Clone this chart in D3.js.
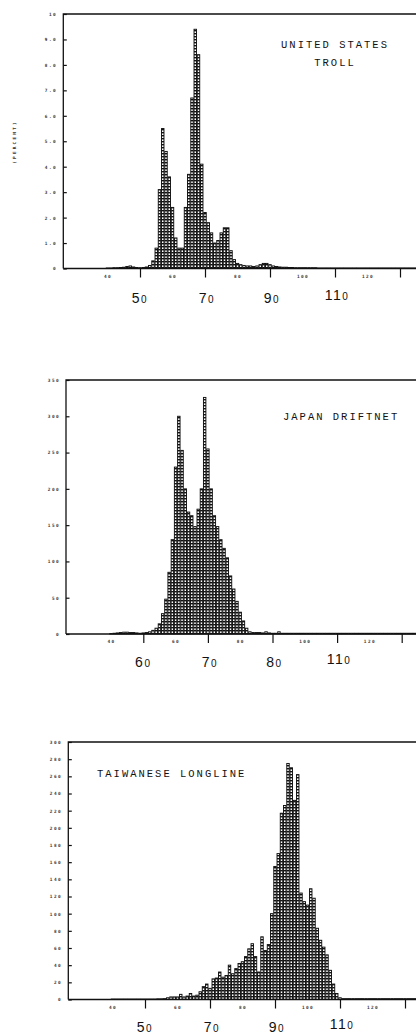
<!DOCTYPE html>
<html>
<head>
<meta charset="utf-8">
<script src="https://cdn.jsdelivr.net/npm/d3@7"></script>
<style>
  html, body { margin: 0; padding: 0; background: #fff; }
  svg { display: block; }
</style>
</head>
<body>
<svg id="chart" width="416" height="1036"></svg>
<script>
// ---- Length-frequency data (fork length, cm; 1-cm bins centred on each length) ----

// United States troll (percent)
const trollLength = [40,41,42,43,44,45,46,47,48,49,50,51,52,53,54,55,56,57,58,59,60,61,62,63,64,65,66,67,68,69,70,71,72,73,74,75,76,77,78,79,80,81,82,83,84,85,86,87,88,89,90,91,92,93,94,95,96,97,98,99,100,101,102,103,104,105,106,107,108,109,110,111,112,113,114,115,116,117,118,119,120,121,122,123,124,125,126,127,128,129,130,131,132,133,134,135];
const trollFreq   = [0.02,0.02,0.03,0.03,0.04,0.05,0.08,0.1,0.06,0.04,0.03,0.04,0.06,0.12,0.3,0.8,3.1,5.5,4.6,3.6,2.4,1.2,0.8,0.8,2.4,3.7,6.7,9.4,8.4,4.1,2.2,1.8,1.4,1.0,1.1,1.4,1.6,1.6,0.7,0.35,0.2,0.15,0.12,0.1,0.1,0.08,0.1,0.15,0.2,0.2,0.15,0.1,0.08,0.06,0.05,0.05,0.04,0.04,0.03,0.03,0.03,0.03,0.03,0.03,0.03,0.02,0.02,0.02,0.02,0.02,0.02,0.02,0.02,0.02,0.02,0.02,0.02,0.02,0.02,0.02,0.02,0.02,0.02,0.02,0.02,0.02,0.02,0.02,0.02,0.02,0.02,0.02,0.02,0.02,0.02,0.02];

// Japan driftnet (number of fish)
const driftLength = [40,41,42,43,44,45,46,47,48,49,50,51,52,53,54,55,56,57,58,59,60,61,62,63,64,65,66,67,68,69,70,71,72,73,74,75,76,77,78,79,80,81,82,83,84,85,86,87,88,89,90,91,92,93,94,95,96,97,98,99,100,101,102,103,104,105,106,107,108,109,110,111,112,113,114,115,116,117,118,119,120,121,122,123,124,125,126,127,128,129,130,131,132,133,134,135];
const driftFreq   = [0.5,1,1.5,2,2.5,2.5,2,2,1.5,1,1.5,2,3,5,8,14,28,48,85,130,230,300,253,200,168,163,148,172,200,326,255,200,163,148,130,118,105,80,62,45,30,18,8,3,2,2,2,1.5,3,1.5,1,1,3,1,1,1,1,1,1,1,1,1,1,1,1,1,1,1,1,1,1,1,1,1,1,1,1,1,1,1,1,1,1,1,1,1,1,1,1,1,1,1,1,1,1,1];

// Taiwanese longline (number of fish)
const longLength = [40,41,42,43,44,45,46,47,48,49,50,51,52,53,54,55,56,57,58,59,60,61,62,63,64,65,66,67,68,69,70,71,72,73,74,75,76,77,78,79,80,81,82,83,84,85,86,87,88,89,90,91,92,93,94,95,96,97,98,99,100,101,102,103,104,105,106,107,108,109,110,111,112,113,114,115,116,117,118,119,120,121,122,123,124,125,126,127,128,129,130,131,132,133,134,135];
const longFreq   = [0.5,0.5,0.5,0.5,0.5,0.5,0.5,0.5,0.5,0.5,0.5,0.5,0.5,0.5,0.8,0.8,1,2,3,3,3,6,3,4,7,4,5,9,15,18,13,24,25,32,26,28,40,30,36,42,44,50,59,65,50,32,73,57,64,100,155,170,217,226,275,270,232,262,124,114,110,129,118,83,69,61,52,34,18,7,2,1,1,1,1,1,1,1,1,1,1,1,1,1,1,1,1,1,1,1,1,1,1,1,1,1];

// ---- Axis ticks and labels ----
const trollYTicks  = [0,1,2,3,4,5,6,7,8,9,10];
const trollYLabels = ["0","1.0","2.0","3.0","4.0","5.0","6.0","7.0","8.0","9.0","10"];
const driftYTicks  = [0,50,100,150,200,250,300,350];
const driftYLabels = ["0","50","100","150","200","250","300","350"];
const longYTicks   = [0,20,40,60,80,100,120,140,160,180,200,220,240,260,280,300];
const longYLabels  = ["0","20","40","60","80","100","120","140","160","180","200","220","240","260","280","300"];

const majorXTicks  = [50,70,90,110,130];
const minorXTicks  = [40,60,80,100,120];
const minorXLabels = ["40","60","80","100","120"];

const handTickValues  = [50,70,90,110];
const trollHandLabels = ["50","70","90","110"];
const driftHandLabels = ["60","70","80","110"];
const longHandLabels  = ["50","70","90","110"];

const trollTitle = ["UNITED STATES","TROLL"];
const driftTitle = ["JAPAN DRIFTNET"];
const longTitle  = ["TAIWANESE LONGLINE"];

// ---- Drawing ----
const svg = d3.select("#chart");
const ink = "#111";

const defs = svg.append("defs");
// printer-style fill: stacked horizontal strokes
const pat = defs.append("pattern")
  .attr("id", "printfill")
  .attr("patternUnits", "userSpaceOnUse")
  .attr("width", 4).attr("height", 3);
pat.append("rect").attr("width", 4).attr("height", 3).attr("fill", "#fff");
pat.append("rect").attr("width", 4).attr("height", 1.4).attr("fill", ink);

const panels = [
  { length: trollLength, freq: trollFreq, yMax: 10, yTicks: trollYTicks, yLabels: trollYLabels,
    hand: trollHandLabels, title: trollTitle,
    box: { left: 63.3, top: 14, bottom: 268.5, x50: 140, x130: 400 },
    titlePos: { x: 335, y: 48, dy: 18, anchor: "middle" }, handY: 303, labelX: 57, minorY: 279 },
  { length: driftLength, freq: driftFreq, yMax: 350, yTicks: driftYTicks, yLabels: driftYLabels,
    hand: driftHandLabels, title: driftTitle,
    box: { left: 66, top: 380, bottom: 634, x50: 143.3, x130: 401.7 },
    titlePos: { x: 283, y: 420, dy: 0, anchor: "start" }, handY: 667, labelX: 60, minorY: 644 },
  { length: longLength, freq: longFreq, yMax: 300, yTicks: longYTicks, yLabels: longYLabels,
    hand: longHandLabels, title: longTitle,
    box: { left: 68.3, top: 742, bottom: 999.5, x50: 145, x130: 405 },
    titlePos: { x: 97, y: 777, dy: 0, anchor: "start" }, handY: 1032, labelX: 62, minorY: 1010 }
];

panels.forEach((p, i) => {
  const b = p.box;
  const g = svg.append("g").attr("class", "panel panel-" + i);

  const x = d3.scaleLinear().domain([50, 130]).range([b.x50, b.x130]);
  const y = d3.scaleLinear().domain([0, p.yMax]).range([b.bottom, b.top]);

  // bars
  const bins = p.length.map((v, k) => ({ v, f: p.freq[k] }));
  g.append("g").selectAll("rect")
    .data(bins)
    .join("rect")
    .attr("x", d => x(d.v - 0.5) + 0.4)
    .attr("width", d => x(d.v + 0.5) - x(d.v - 0.5) - 0.8)
    .attr("y", d => y(d.f))
    .attr("height", d => y(0) - y(d.f))
    .attr("fill", "url(#printfill)")
    .attr("stroke", ink)
    .attr("stroke-width", 0.95);

  // frame: left side, top edge, baseline
  g.append("path")
    .attr("d", `M${b.left},${b.bottom} V${b.top} H${420}`)
    .attr("fill", "none").attr("stroke", ink).attr("stroke-width", 1.3);
  g.append("line")
    .attr("x1", b.left).attr("x2", 420)
    .attr("y1", b.bottom).attr("y2", b.bottom)
    .attr("stroke", ink).attr("stroke-width", 1.4);

  // left axis: inward ticks with small printed labels
  const yAxis = d3.axisLeft(y)
    .tickValues(p.yTicks)
    .tickSize(-3.5)
    .tickPadding(0)
    .tickFormat((d, k) => p.yLabels[k]);
  const ya = g.append("g").attr("transform", `translate(${b.left},0)`).call(yAxis);
  ya.select(".domain").remove();
  ya.selectAll(".tick line").attr("stroke", ink).attr("stroke-width", 1.2);
  ya.selectAll(".tick text")
    .attr("x", p.labelX - b.left)
    .attr("font-family", "DejaVu Sans Mono")
    .attr("font-size", 4.4)
    .attr("font-weight", "bold")
    .attr("letter-spacing", 1.4)
    .attr("fill", "#333");

  // bottom axis: major ticks
  const xMajor = d3.axisBottom(x).tickValues(majorXTicks).tickSize(9).tickFormat("");
  const xa = g.append("g").attr("transform", `translate(0,${b.bottom})`).call(xMajor);
  xa.select(".domain").remove();
  xa.selectAll(".tick line").attr("stroke", ink).attr("stroke-width", 1.2);

  // bottom axis: printed minor labels
  const xMinor = d3.axisBottom(x).tickValues(minorXTicks).tickSize(0).tickPadding(0)
    .tickFormat((d, k) => minorXLabels[k]);
  const xm = g.append("g").attr("transform", `translate(0,${p.minorY - 4})`).call(xMinor);
  xm.select(".domain").remove();
  xm.selectAll(".tick text")
    .attr("font-family", "DejaVu Sans Mono")
    .attr("font-size", 4.4)
    .attr("font-weight", "bold")
    .attr("letter-spacing", 1.4)
    .attr("fill", "#333");

  // hand-lettered axis values
  handTickValues.forEach((v, k) => {
    const s = p.hand[k];
    const t = g.append("text")
      .attr("x", x(v) + (k === 0 ? 0 : 2))
      .attr("y", p.handY - (k === 3 ? 3 : 0))
      .attr("text-anchor", "middle")
      .attr("font-family", "Liberation Sans")
      .attr("fill", ink)
      .attr("letter-spacing", 1.5)
      .attr("font-size", 14);
    t.append("tspan").text(s.slice(0, -1));
    t.append("tspan").attr("font-size", 10).text(s.slice(-1));
  });

  // panel caption
  p.title.forEach((line, k) => {
    g.append("text")
      .attr("x", p.titlePos.x)
      .attr("y", p.titlePos.y + k * p.titlePos.dy)
      .attr("text-anchor", p.titlePos.anchor)
      .attr("font-family", "Liberation Mono")
      .attr("font-size", 10.5)
      .attr("letter-spacing", 2)
      .attr("fill", ink)
      .text(line);
  });
});

// vertical axis caption of the first panel
svg.append("text")
  .attr("transform", "translate(16,142) rotate(-90)")
  .attr("text-anchor", "middle")
  .attr("font-family", "DejaVu Sans Mono")
  .attr("font-size", 4.4)
  .attr("font-weight", "bold")
  .attr("letter-spacing", 2.2)
  .attr("fill", "#333")
  .text("(PERCENT)");
</script>
</body>
</html>
